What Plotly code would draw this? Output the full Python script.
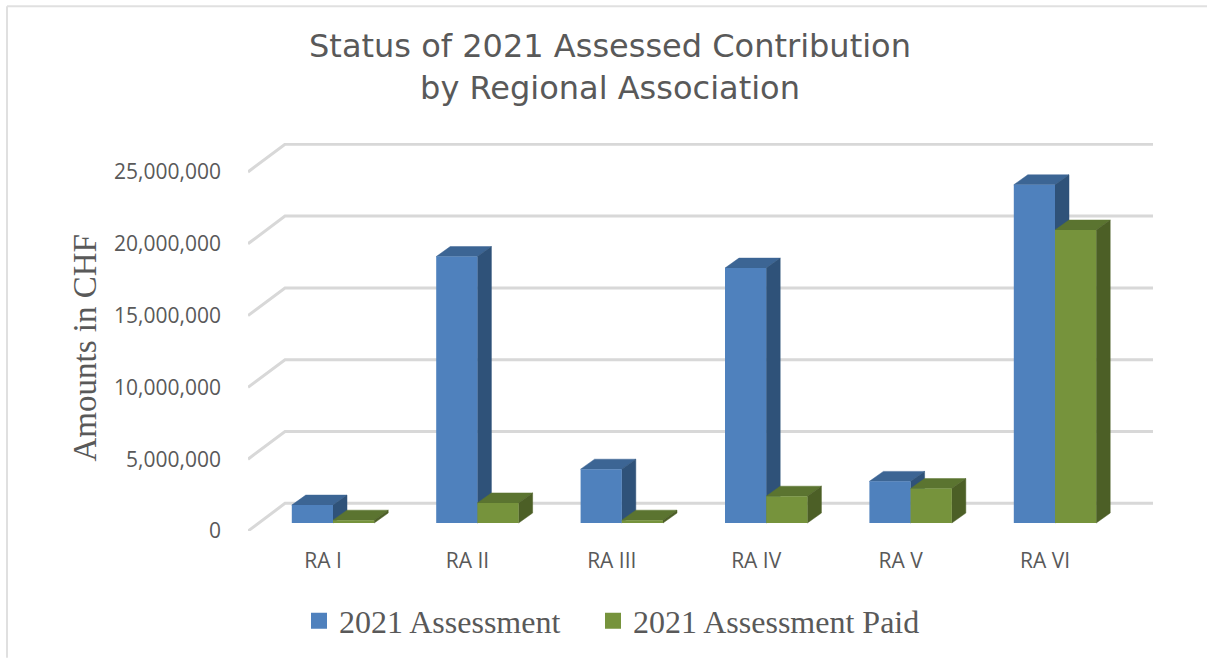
import plotly.graph_objects as go

categories = ["RA I", "RA II", "RA III", "RA IV", "RA V", "RA VI"]
assessment = [1250000, 18550000, 3750000, 17750000, 2900000, 23550000]
paid = [200000, 1400000, 200000, 1870000, 2400000, 20400000]
grid_values = [0, 5000000, 10000000, 15000000, 20000000, 25000000]
tick_labels = ["0", "5,000,000", "10,000,000", "15,000,000", "20,000,000", "25,000,000"]

W, H = 1207, 659
L, R, T, B = 248, 1153, 143, 532
PX_X = 144.4              # pixels per category
PX_Y = 72 / 5000000       # pixels per CHF


def dx(px):
    return px / PX_X


def dy(px):
    return px / PX_Y


X0 = dx(L - 333)
X1 = dx(R - 333)
Y1 = dy(B - T)
BAR_W = dx(41.2)
BASE = dy(8)
DX, DY = dx(14), dy(10)
BACK_X, BACK_Y = dx(37), dy(27.7)

fig = go.Figure()

gx, gy = [], []
for v in grid_values:
    gx += [X0, X0 + BACK_X, X1, None]
    gy += [v, v + BACK_Y, v + BACK_Y, None]
fig.add_trace(go.Scatter(x=gx, y=gy, mode="lines", line=dict(color="#d8d8d8", width=3),
                         cliponaxis=False, showlegend=False, hoverinfo="skip", zorder=0))


def faces(values, offset, top_col, side_col, z):
    sx, sy, tx, ty = [], [], [], []
    for i, v in enumerate(values):
        a = i + offset - BAR_W / 2
        b = i + offset + BAR_W / 2
        lo = BASE
        hi = BASE + v
        tx += [a, a + DX, b + DX, b, a, None]
        ty += [hi, hi + DY, hi + DY, hi, hi, None]
        sx += [b, b + DX, b + DX, b, b, None]
        sy += [lo, lo + DY, hi + DY, hi, lo, None]
    for xs, ys, col in ((tx, ty, top_col), (sx, sy, side_col)):
        fig.add_trace(go.Scatter(x=xs, y=ys, mode="lines", fill="toself", fillcolor=col,
                                 line=dict(color=col, width=0.5), cliponaxis=False,
                                 showlegend=False, hoverinfo="skip", zorder=z))


idx = list(range(len(categories)))
faces(assessment, -BAR_W / 2, "#3C6594", "#2F5279", 1)
fig.add_trace(go.Bar(x=[i - BAR_W / 2 for i in idx], y=assessment, base=BASE, width=BAR_W,
                     marker=dict(color="#4F81BD", line=dict(width=0)),
                     cliponaxis=False, showlegend=False, name="2021 Assessment", zorder=2))
faces(paid, BAR_W / 2, "#5B7430", "#4C5F26", 3)
fig.add_trace(go.Bar(x=[i + BAR_W / 2 for i in idx], y=paid, base=BASE, width=BAR_W,
                     marker=dict(color="#76933C", line=dict(width=0)),
                     cliponaxis=False, showlegend=False, name="2021 Assessment Paid", zorder=4))

for name, col, entry in (("2021 Assessment", "#4F81BD", 249), ("2021 Assessment Paid", "#76933C", 300)):
    fig.add_trace(go.Scatter(x=[None], y=[None], mode="markers", name=name, legendwidth=entry,
                             marker=dict(symbol="square", size=16, color=col)))


def px(x):
    return (x - L) / (R - L)


def py(y):
    return (B - y) / (B - T)


frame = "#e0e0e0"
fig.update_layout(
    width=W, height=H, autosize=False,
    margin=dict(l=L, r=W - R, t=T, b=H - B, pad=0),
    paper_bgcolor="white", plot_bgcolor="white",
    barmode="overlay",
    title=dict(text="Status of 2021 Assessed Contribution<br>by Regional Association",
               font=dict(family="DejaVu Sans", size=32, color="#595959"),
               x=px(610), xref="paper", xanchor="center",
               y=1 - 57 / H, yref="container", yanchor="top"),
    xaxis=dict(range=[X0, X1], tickmode="array",
               tickvals=[i - dx(10) for i in idx], ticktext=categories,
               showgrid=False, zeroline=False, showline=False, ticks="",
               ticklabelstandoff=15,
               tickfont=dict(family="Open Sans", size=21, color="#595959")),
    yaxis=dict(range=[0, Y1], tickmode="array", tickvals=grid_values, ticktext=tick_labels,
               showgrid=False, zeroline=False, showline=False, ticks="",
               ticklabelstandoff=26,
               tickfont=dict(family="Open Sans", size=21, color="#595959")),
    annotations=[dict(text="Amounts in CHF", textangle=-90, showarrow=False,
                      xref="paper", yref="paper", x=px(85), y=py(349),
                      xanchor="center", yanchor="middle",
                      font=dict(family="Liberation Serif", size=33, color="#595959"))],
    legend=dict(orientation="h", x=px(299), xanchor="left", y=py(621), yanchor="middle",
                font=dict(family="Liberation Serif", size=32, color="#595959"),
                bgcolor="rgba(0,0,0,0)", itemclick=False, itemdoubleclick=False),
    shapes=[
        dict(type="line", xref="paper", yref="paper", x0=px(7), x1=px(7), y0=py(6), y1=py(H),
             line=dict(color=frame, width=2), layer="below"),
        dict(type="line", xref="paper", yref="paper", x0=px(7), x1=px(W), y0=py(6), y1=py(6),
             line=dict(color=frame, width=2), layer="below"),
    ],
)

fig.write_html("out.html", post_script="document.body.style.margin='0';",
               config=dict(displayModeBar=False))
